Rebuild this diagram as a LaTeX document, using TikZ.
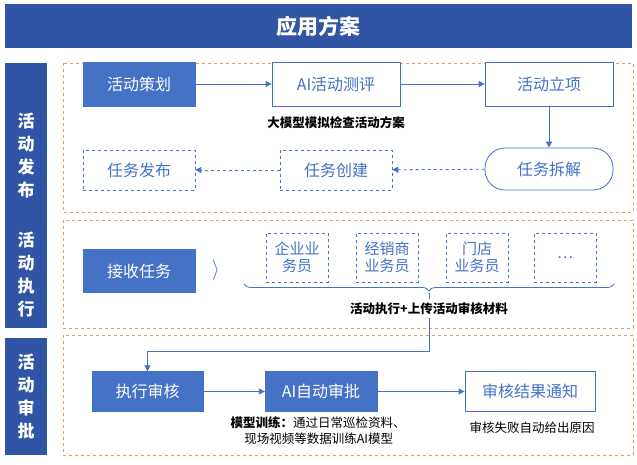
\documentclass[tikz,border=0pt]{standalone}
\usepackage{fontspec}
\setmainfont{Noto Sans CJK SC}
\newcommand\cjkbold{\bfseries}
\usetikzlibrary{arrows.meta,decorations.pathreplacing,calc}
\definecolor{dblue}{HTML}{2F55A4}
\definecolor{mblue}{HTML}{4472C4}
\definecolor{orng}{HTML}{ED7D31}
\begin{document}
\begin{tikzpicture}[x=1pt,y=-1pt,
  fbox/.style={draw=mblue,fill=mblue,text=white,minimum width=#1,minimum height=44,inner sep=0,font=\fontsize{16}{18}\selectfont},
  fbox/.default=112,
  wbox/.style={draw=mblue,line width=0.8pt,fill=white,text=mblue,minimum width=128,minimum height=44,inner sep=0,font=\fontsize{16}{18}\selectfont},
  dbox/.style={wbox,dashed,line width=0.6pt,minimum width=112,minimum height=40},
  pbox/.style={draw=mblue,dashed,line width=0.6pt,text=mblue,minimum width=62,minimum height=49,inner sep=0,align=center,font=\fontsize{15}{17}\selectfont},
  sec/.style={fill=dblue,text=white,minimum width=42,inner sep=0,align=center,font=\cjkbold\fontsize{17}{23}\selectfont},
  obox/.style={draw=orng!80,dashed,line width=0.7pt},
  arr/.style={-{Triangle[length=6,width=6]},mblue,line width=0.8pt},
  captxt/.style={font=\cjkbold\fontsize{12.5}{14}\selectfont,text=black},
  note/.style={font=\fontsize{12.5}{16}\selectfont,text=black,align=left}]
\useasboundingbox (0,0) rectangle (637,465);
\fill[white] (0,0) rectangle (637,465);
% title
\node[fill=dblue,text=white,minimum width=627,minimum height=44,inner sep=0,font=\cjkbold\fontsize{21}{24}\selectfont] (title) at (318.5,26) {应用方案};
% section labels
\node[sec,minimum height=185] (s1) at (26,155.5) {活\\动\\发\\布};
\node[sec,minimum height=106] (s2) at (26,275) {活\\动\\执\\行};
\node[sec,minimum height=117] (s3) at (26,396.5) {活\\动\\审\\批};
\draw[obox] (63,63) rectangle (633,212);
\draw[obox] (63,220) rectangle (633,328);
\draw[obox] (63,335) rectangle (633,455);
% section 1
\node[fbox] (a1) at (139,84) {活动策划};
\node[wbox] (a2) at (336,84) {AI活动测评};
\node[wbox] (a3) at (549,84) {活动立项};
\node[captxt] (c1) at (336,123) {大模型模拟检查活动方案};
\node[wbox,rounded corners=20,minimum height=42] (a4) at (549,169) {任务拆解};
\node[dbox] (a5) at (336,170) {任务创建};
\node[dbox] (a6) at (139,170) {任务发布};
\draw[arr] (a1) -- (a2);
\draw[arr] (a2) -- (a3);
\draw[arr] (a3) -- (a4);
\draw[arr,dashed] (a4) -- (a5);
\draw[arr,dashed] (a5) -- (a6);
% section 2
\node[fbox,minimum height=43] (b1) at (139,271) {接收任务};
\node[text=mblue,font=\fontsize{20}{20}\selectfont] (gt) at (216,270) {$\rangle$};
\node[pbox] (p1) at (297,257.5) {企业业\\务员};
\node[pbox] (p2) at (387,257.5) {经销商\\业务员};
\node[pbox] (p3) at (477,257.5) {门店\\业务员};
\node[pbox] (p4) at (565,257.5) {…};
\coordinate (bl) at (244,284);
\coordinate (br) at (614,284);
\draw[mblue,line width=0.8pt,decorate,decoration={brace,mirror,amplitude=7pt}] (bl) -- (br);
\coordinate (bm) at (429,293);
\node[captxt] (c2) at (429,309) {活动执行+上传活动审核材料};
% section 3
\node[fbox,minimum height=40,minimum width=111] (d1) at (147.5,391.5) {执行审核};
\node[fbox,minimum height=40,minimum width=112] (d2) at (321,391.5) {AI自动审批};
\node[wbox,minimum height=40,minimum width=130] (d3) at (530,391.5) {审核结果通知};
\coordinate (j1) at (429,318);
\coordinate (j2) at (429,351);
\draw[mblue,line width=0.8pt] (bm) -- (c2.north);
\draw[arr] (j1) -- (j2) -| (d1.north);
\draw[arr] (d1) -- (d2);
\draw[arr] (d2) -- (d3);
\node[note] (n1) at (318,431) {{\cjkbold 模型训练：}通过日常巡检资料、\\\hspace*{1.1em}现场视频等数据训练AI模型};
\node[note] (n2) at (532,428) {审核失败自动给出原因};
\end{tikzpicture}
\end{document}
